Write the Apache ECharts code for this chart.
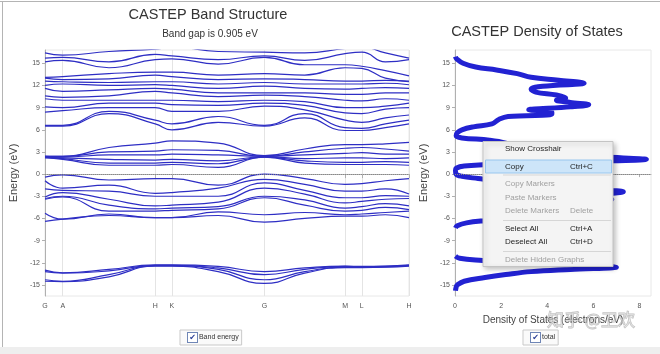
<!DOCTYPE html>
<html>
<head>
<meta charset="utf-8">
<title>CASTEP Band Structure</title>
<script src="https://cdn.jsdelivr.net/npm/echarts@6/dist/echarts.min.js"></script>
<style>
  html, body { margin: 0; padding: 0; background: #fff; }
  #chart { width: 660px; height: 354px; }
</style>
</head>
<body>
<div id="chart"></div>
<script>
// k-path (high symmetry points)
var kLabels = ['G', 'A', 'H', 'K', 'G', 'M', 'L', 'H'];
var kTicks = [0, 0.18, 1.12, 1.29, 2.23, 3.05, 3.22, 3.70];
// k positions where band energies were read
var kx = [0, 0.18, 0.65, 1.12, 1.29, 1.76, 2.23, 2.64, 3.05, 3.22, 3.46, 3.70];
var energyTicks = [-15, -12, -9, -6, -3, 0, 3, 6, 9, 12, 15];
var dosTicks = [0, 2, 4, 6, 8];

var coreBands = [
    [-13.0, -13.35, -12.9, -12.3, -12.3, -12.5, -13.2, -12.7, -12.45, -12.5, -12.45, -12.3],
    [-13.2, -13.4, -13.1, -12.35, -12.35, -12.7, -13.6, -12.9, -12.5, -12.55, -12.5, -12.35],
    [-14.3, -14.5, -13.6, -12.4, -12.4, -12.9, -14.3, -13.2, -12.6, -12.6, -12.55, -12.4],
    [-14.5, -14.55, -13.9, -12.45, -12.45, -13.2, -14.8, -13.4, -12.65, -12.65, -12.6, -12.45]
];
var valenceBands = [
    [-0.4, -0.1, -0.8, -0.6, -0.6, -1.5, 0.0, -0.6, -1.4, -1.3, -0.9, -0.6],
    [-0.9, -1.9, -1.5, -2.6, -2.5, -1.9, -0.7, -1.4, -2.3, -2.3, -2.0, -2.7],
    [-2.0, -2.2, -2.3, -3.0, -3.0, -3.0, -1.2, -2.2, -3.2, -3.2, -2.9, -3.0],
    [-3.1, -2.5, -3.4, -4.3, -4.2, -3.8, -1.9, -2.7, -3.9, -3.7, -3.4, -3.3],
    [-3.3, -3.0, -4.2, -4.7, -4.6, -4.4, -3.0, -3.5, -4.6, -4.4, -4.0, -4.3],
    [-3.4, -3.1, -5.0, -5.0, -4.9, -4.7, -3.2, -4.2, -5.0, -4.9, -4.5, -4.8],
    [-5.3, -6.1, -5.4, -5.9, -5.9, -5.1, -5.5, -5.2, -5.5, -5.4, -5.2, -5.0],
    [-6.4, -6.1, -5.6, -5.9, -5.9, -5.6, -6.5, -6.0, -5.7, -5.7, -5.5, -5.9]
];
var conductionBands = [
    [2.4, 2.4, 3.6, 4.2, 4.5, 4.2, 2.5, 3.4, 4.0, 4.0, 4.1, 4.3],
    [2.4, 2.4, 3.0, 3.1, 3.3, 3.2, 2.4, 3.0, 3.5, 3.6, 3.4, 3.1],
    [2.4, 2.3, 2.6, 2.6, 2.7, 2.6, 2.4, 2.6, 2.8, 2.9, 2.7, 2.7],
    [2.3, 2.2, 2.0, 1.9, 2.0, 1.8, 2.35, 2.1, 2.2, 2.2, 2.1, 2.2],
    [2.3, 2.1, 1.5, 1.5, 1.6, 1.4, 2.3, 1.8, 1.6, 1.6, 1.7, 1.6],
    [2.2, 2.0, 1.2, 1.2, 1.3, 0.9, 2.3, 1.5, 1.3, 1.3, 1.3, 1.2]
];
var upperBands = [
    [6.5, 6.5, 8.2, 6.8, 6.0, 7.0, 6.5, 7.6, 5.9, 5.9, 6.3, 6.8],
    [6.6, 6.6, 8.5, 7.3, 6.8, 7.8, 6.6, 8.2, 6.3, 6.2, 6.8, 7.3],
    [8.4, 8.6, 9.0, 9.0, 8.5, 8.5, 9.2, 8.7, 7.3, 7.0, 7.6, 8.0],
    [9.1, 9.0, 9.6, 9.6, 9.4, 9.3, 9.6, 9.3, 8.3, 8.2, 8.8, 9.0],
    [10.2, 10.0, 10.0, 10.0, 10.0, 9.8, 10.0, 9.8, 9.0, 9.0, 9.2, 9.6],
    [10.6, 10.4, 10.6, 11.2, 11.0, 10.5, 10.7, 10.5, 10.0, 9.9, 10.2, 10.0],
    [11.6, 11.2, 11.4, 11.6, 11.5, 11.0, 11.0, 11.0, 10.8, 10.8, 11.0, 11.0],
    [12.0, 12.2, 12.0, 12.1, 12.0, 11.6, 11.9, 11.6, 11.5, 11.6, 11.7, 11.6],
    [12.6, 12.5, 12.4, 12.5, 12.5, 12.2, 12.4, 12.2, 12.2, 12.2, 12.3, 12.1],
    [13.0, 12.8, 12.9, 13.4, 13.2, 12.8, 12.9, 12.8, 12.6, 12.6, 12.7, 12.5],
    [13.1, 13.2, 13.6, 13.8, 13.8, 13.4, 13.6, 13.4, 14.4, 14.3, 13.0, 12.6],
    [15.2, 15.4, 14.4, 15.5, 15.6, 14.9, 15.8, 14.8, 14.8, 14.6, 14.0, 13.3],
    [15.7, 15.8, 15.2, 16.2, 16.0, 15.5, 16.0, 15.4, 16.3, 16.5, 15.2, 15.5],
    [16.4, 16.1, 16.6, 16.9, 17.2, 16.6, 16.5, 16.4, 17.0, 17.2, 16.4, 15.7]
];

// total DOS (electrons/eV) against energy (eV); null = gap, nothing drawn
var dosEnergy = [-15.8, -15.3, -15.0, -14.5, -14.0, -13.6, -13.2, -12.9, -12.6, -12.3, -12.0, -11.7, -11.4, -11.1,
    -9.0, -7.3, -7.0, -6.6, -6.3, -6.0, -5.5, -5.0, -4.5, -4.0, -3.4, -3.0, -2.4, -2.0, -1.5, -1.0, -0.6, -0.3, 0.0,
    0.5, 0.8, 1.1, 1.4, 1.7, 2.0, 2.3, 2.7, 3.2, 3.7, 4.2, 4.6, 4.9, 5.2, 5.6, 6.0, 6.4, 6.8, 7.4, 7.8, 8.1, 8.4,
    8.7, 9.1, 9.4, 9.7, 10.0, 10.3, 10.7, 11.1, 11.5, 11.9, 12.3, 12.7, 13.1, 13.6, 14.1, 14.5, 15.0, 15.6, 15.9];
var dosTotal = [0.02, 0.05, 0.1, 0.4, 1.3, 2.2, 3.3, 5.0, 7.0, 5.5, 2.5, 1.2, 0.2, 0.02,
    null, 0.02, 0.1, 0.5, 1.3, 2.5, 3.5, 4.5, 5.0, 5.5, 6.8, 5.5, 7.3, 5.0, 3.5, 2.0, 1.0, 0.3, 0.05,
    0.02, 0.05, 0.4, 2.5, 5.0, 8.3, 6.5, 4.0, 3.0, 2.5, 2.2, 1.5, 0.3, 0.05, 0.1, 0.3, 0.8, 1.6, 1.9, 2.3, 4.2, 4.2,
    3.2, 5.0, 5.8, 5.0, 4.4, 4.8, 4.4, 3.5, 3.3, 3.8, 5.6, 4.5, 3.3, 2.7, 1.8, 0.9, 0.35, 0.07, 0.02];

var myChart = echarts.init(document.getElementById('chart'));

var bandColor = '#2e2ec4';
var allBands = coreBands.concat(valenceBands, conductionBands, upperBands);
var series = [];
allBands.forEach(function (band, b) {
    var s = {
        name: 'Band energy',
        type: 'line',
        xAxisIndex: 0,
        yAxisIndex: 0,
        smooth: 0.5,
        showSymbol: false,
        color: bandColor,
        lineStyle: { width: 1.2, color: bandColor },
        data: kx.map(function (k, i) { return [k, band[i]]; })
    };
    if (b === 0) {
        s.markLine = {
            silent: true, symbol: ['none', 'none'], label: { show: false },
            lineStyle: { color: '#888', type: 'dotted', width: 1 },
            data: [{ yAxis: 0 }]
        };
    }
    series.push(s);
});

series.push({
    name: 'total',
    type: 'line',
    xAxisIndex: 1,
    yAxisIndex: 1,
    smooth: 0.4,
    showSymbol: false,
    connectNulls: false,
    color: '#2222d2',
    lineStyle: { width: 5, color: '#2222d2' },
    data: dosEnergy.map(function (e, i) { return [dosTotal[i], e]; }),
    markLine: {
        silent: true, symbol: ['none', 'none'], label: { show: false },
        lineStyle: { color: '#888', type: 'dotted', width: 1 },
        data: [{ yAxis: 0 }]
    }
});

var axisFont = { fontSize: 7, color: '#555', fontFamily: 'Liberation Sans' };
function energyAxis(gridIndex) {
    return {
        type: 'value', gridIndex: gridIndex, min: -16.5, max: 16.8,
        name: 'Energy (eV)', nameLocation: 'middle', nameGap: 26,
        nameTextStyle: { fontSize: 11, color: '#444', fontFamily: 'Liberation Sans' },
        axisLine: { show: true, lineStyle: { color: '#b0b0b0' } },
        axisTick: { show: true, length: 3, customValues: energyTicks, lineStyle: { color: '#b0b0b0' } },
        axisLabel: Object.assign({ customValues: energyTicks, margin: 5 }, axisFont),
        splitLine: { show: false }
    };
}

// context menu over the DOS plot
var menuRows = [
    ['Show Crosshair', '', 149, true],
    ['Copy', 'Ctrl+C', 166.5, true],
    ['Copy Markers', '', 184, false],
    ['Paste Markers', '', 197.5, false],
    ['Delete Markers', 'Delete', 211, false],
    ['Select All', 'Ctrl+A', 228.5, true],
    ['Deselect All', 'Ctrl+D', 242, true],
    ['Delete Hidden Graphs', '', 259.5, false]
];
var menuEls = [
    { type: 'rect', shape: { x: 483, y: 141.5, width: 130, height: 125 },
      style: { fill: '#f4f4f4', stroke: '#c4c4c4', lineWidth: 1, shadowBlur: 5, shadowColor: 'rgba(0,0,0,0.25)', shadowOffsetX: 2, shadowOffsetY: 2 } },
    { type: 'rect', shape: { x: 485.5, y: 160, width: 126, height: 13 },
      style: { fill: '#cde5f9', stroke: '#98c6ee', lineWidth: 1 } }
];
[175, 220.5, 251.5].forEach(function (y) {
    menuEls.push({ type: 'line', shape: { x1: 503, y1: y, x2: 611, y2: y }, style: { stroke: '#d6d6d6', lineWidth: 1 } });
});
menuRows.forEach(function (r) {
    var col = r[3] ? '#1e1e1e' : '#a0a0a0';
    menuEls.push({ type: 'text', x: 505, y: r[2],
        style: { text: r[0], fill: col, font: '8px "Liberation Sans"', verticalAlign: 'middle' } });
    if (r[1]) {
        menuEls.push({ type: 'text', x: 570, y: r[2],
            style: { text: r[1], fill: col, font: '8px "Liberation Sans"', verticalAlign: 'middle' } });
    }
});
menuEls.forEach(function (el, i) { el.z = 100 + i; });

function checkLegend(name, left) {
    return {
        data: [name], left: left, top: 330, selectedMode: false,
        itemWidth: 0, itemHeight: 0, itemGap: 0,
        borderColor: '#c9c9c9', borderWidth: 1, padding: [2, 3, 2, 2], backgroundColor: '#fafafa',
        formatter: function (n) { return '{cb|\u2714}{t| ' + n + '}'; },
        textStyle: {
            rich: {
                cb: { width: 9, height: 9, lineHeight: 9, align: 'center', borderColor: '#6f86b6', borderWidth: 1,
                      backgroundColor: '#fff', color: '#2b3f96', fontSize: 8, fontFamily: 'DejaVu Sans' },
                t: { fontSize: 7, color: '#333', fontFamily: 'Liberation Sans' }
            }
        }
    };
}

var option = {
    animation: false,
    backgroundColor: '#fff',
    legend: [checkLegend('Band energy', 180), checkLegend('total', 523)],
    grid: [
        { left: 39, top: 50, width: 370, height: 246, show: true, borderColor: '#e8e8e8', borderWidth: 1 },
        { left: 455, top: 50, width: 196, height: 246, show: true, borderColor: '#e8e8e8', borderWidth: 1 }
    ],
    xAxis: [
        {
            type: 'value', gridIndex: 0, min: 0, max: 3.70,
            axisLine: { show: true, lineStyle: { color: '#b0b0b0' } },
            axisTick: { show: true, length: 4, customValues: kTicks, lineStyle: { color: '#b0b0b0' } },
            axisLabel: Object.assign({
                customValues: kTicks, margin: 7,
                formatter: function (v) { return kLabels[kTicks.indexOf(v)]; }
            }, axisFont),
            splitLine: { show: true, lineStyle: { color: '#e4e4e4', width: 1 } }
        },
        {
            type: 'value', gridIndex: 1, min: 0, max: 8.5,
            name: 'Density of States (electrons/eV)', nameLocation: 'middle', nameGap: 18,
            nameTextStyle: { fontSize: 10, color: '#444', fontFamily: 'Liberation Sans' },
            axisLine: { show: true, lineStyle: { color: '#b0b0b0' } },
            axisTick: { show: true, length: 3, customValues: dosTicks, lineStyle: { color: '#b0b0b0' } },
            axisLabel: Object.assign({ customValues: dosTicks, margin: 7 }, axisFont),
            splitLine: { show: false }
        }
    ],
    yAxis: [energyAxis(0), energyAxis(1)],
    series: series,
    graphic: [
        { type: 'rect', z: 50, shape: { x: 0, y: 347, width: 660, height: 7 }, style: { fill: '#eeeeee' } },
        { type: 'line', z: 50, shape: { x1: 0, y1: 1.5, x2: 660, y2: 1.5 }, style: { stroke: '#b4b4b4', lineWidth: 1 } },
        { type: 'line', z: 50, shape: { x1: 2.5, y1: 1.5, x2: 2.5, y2: 347 }, style: { stroke: '#b4b4b4', lineWidth: 1 } },
        { type: 'text', z: 50, x: 208, y: 15, style: { text: 'CASTEP Band Structure', fill: '#333',
            font: '14.5px "Liberation Sans"', align: 'center', verticalAlign: 'middle' } },
        { type: 'text', z: 50, x: 210, y: 34.5, style: { text: 'Band gap is 0.905 eV', fill: '#333',
            font: '10px "Liberation Sans"', align: 'center', verticalAlign: 'middle' } },
        { type: 'text', z: 50, x: 537, y: 32, style: { text: 'CASTEP Density of States', fill: '#333',
            font: '14.5px "Liberation Sans"', align: 'center', verticalAlign: 'middle' } }
    ].concat(menuEls, [
        { type: 'text', z: 150, x: 547, y: 320, style: { text: '知乎 @卫欢', fill: 'rgba(235,235,235,0.5)',
            stroke: 'rgba(110,110,110,0.45)', lineWidth: 1, font: '17px "Noto Sans CJK SC"', verticalAlign: 'middle' } }
    ])
};

myChart.setOption(option);
</script>
</body>
</html>
